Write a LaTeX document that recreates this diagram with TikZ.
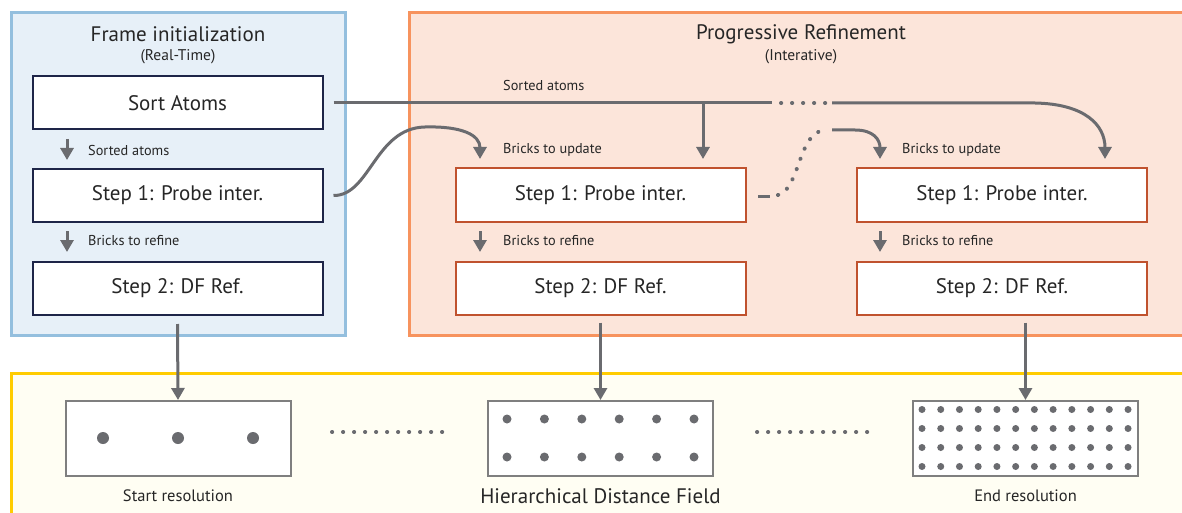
\documentclass[tikz,border=0pt]{standalone}
\usepackage{fontspec}
\setmainfont{PT Sans}
\usetikzlibrary{arrows.meta}
\definecolor{conn}{HTML}{6A6B6F}
\definecolor{navy}{HTML}{1E2548}
\definecolor{rust}{HTML}{C0522E}
\definecolor{bluefill}{HTML}{E7F0F8}
\definecolor{blueline}{HTML}{94BFDE}
\definecolor{orfill}{HTML}{FCE5DA}
\definecolor{orline}{HTML}{F7935E}
\definecolor{yefill}{HTML}{FFFEF3}
\definecolor{yeline}{HTML}{FFCC00}
\definecolor{resline}{HTML}{7F7F7F}
\definecolor{txt}{HTML}{262626}
\tikzset{
  x=1pt, y=-1pt,
  stepbox/.style={draw=#1, line width=2pt, fill=white, minimum width=290pt, minimum height=53pt, inner sep=0pt, text=txt, font=\fontsize{21}{24}\selectfont},
  resbox/.style={draw=resline, line width=2pt, fill=white, minimum width=225pt, minimum height=75pt, inner sep=0pt},
  conn/.style={draw=conn, line width=3pt},
  arr/.style={conn, -{Triangle[length=12pt,width=13pt]}},
  dotline/.style={draw=conn, line width=4pt, line cap=round, dash pattern=on 0.2pt off 10.8pt},
  lbl/.style={anchor=west, inner sep=0pt, text=txt, font=\fontsize{14.3}{16}\selectfont},
  ttl/.style={inner sep=0pt, text=txt, font=\fontsize{21}{24}\selectfont},
  subttl/.style={inner sep=0pt, text=txt, font=\fontsize{15.5}{18}\selectfont},
  reslbl/.style={inner sep=0pt, text=txt, font=\fontsize{16.5}{19}\selectfont},
  dot/.style={fill=conn, circle, inner sep=0pt, minimum size=#1}
}
\begin{document}
\begin{tikzpicture}
\useasboundingbox (0,0) rectangle (1182,513);
\clip (0,0) rectangle (1182,513);
% panels
\draw[fill=bluefill, draw=blueline, line width=3pt] (11.5,12.5) rectangle (345,335);
\draw[fill=orfill, draw=orline, line width=3pt] (409.5,12.5) rectangle (1200,335);
\draw[fill=yefill, draw=yeline, line width=3pt] (11.5,373.5) rectangle (1200,540);
% titles
\node[ttl] (t1) at (178,34) {Frame initialization};
\node[subttl] (t1s) at (178,57) {(Real-Time)};
\node[ttl] (t2) at (801,34) {Progressive Refinement};
\node[subttl] (t2s) at (801,57) {(Interative)};
% left column
\node[stepbox=navy] (sort) at (177.5,103) {Sort Atoms};
\node[stepbox=navy] (p1) at (177.5,195.5) {Step 1: Probe inter.};
\node[stepbox=navy] (r1) at (177.5,288.5) {Step 2: DF Ref.};
% middle column
\node[stepbox=rust] (p2) at (600.5,195) {Step 1: Probe inter.};
\node[stepbox=rust] (r2) at (600.5,288) {Step 2: DF Ref.};
% right column
\node[stepbox=rust] (p3) at (1002,195) {Step 1: Probe inter.};
\node[stepbox=rust] (r3) at (1002,288) {Step 2: DF Ref.};
% small arrows and labels
\coordinate (a1s) at (67,139); \coordinate (a1e) at (67,160);
\coordinate (a2s) at (67,231); \coordinate (a2e) at (67,252);
\draw[arr] (a1s) -- (a1e);
\draw[arr] (a2s) -- (a2e);
\node[lbl] (l1) at (88,150) {Sorted atoms};
\node[lbl] (l2) at (88,241) {Bricks to refine};
\coordinate (m2s) at (480,231); \coordinate (m2e) at (480,252);
\draw[arr] (m2s) -- (m2e);
\node[lbl] (l3) at (503,150) {Bricks to update};
\node[lbl] (l4) at (503,241) {Bricks to refine};
\coordinate (n2s) at (880,231); \coordinate (n2e) at (880,252);
\draw[arr] (n2s) -- (n2e);
\node[lbl] (l5) at (902,150) {Bricks to update};
\node[lbl] (l6) at (902,241) {Bricks to refine};
\node[lbl] (l7) at (503,85) {Sorted atoms};
% top sorted-atoms line
\coordinate (sa1) at (772,103);
\coordinate (sa2) at (832,103);
\coordinate (br) at (703,103);
\coordinate (brt) at (703,159);
\coordinate (rt) at (1105,159);
\draw[conn] ([xshift=10pt]sort.east) -- (sa1);
\draw[dotline] (781,103) -- (826,103);
\draw[arr] (sa2) -- (1035,103) .. controls (1085,104) and (1105,125) .. (rt);
\draw[arr] (br) -- (brt);
% curve from left probe to middle
\coordinate (mt) at (480,159);
\draw[arr] ([xshift=10pt]p1.east) .. controls (370,196) and (375,128) .. (425,127) .. controls (462,126) and (480,135) .. (mt);
% dashed connector from middle probe to right
\coordinate (d1) at (758,196);
\coordinate (d2) at (770,196);
\coordinate (d3) at (832,130);
\coordinate (nt) at (880,159);
\draw[conn] (d1) -- (d2);
\draw[dotline] (778,195) .. controls (800,190) and (798,130) .. (826,130);
\draw[arr] (d3) -- (855,130) .. controls (874,130) and (880,140) .. (nt);
% result boxes
\node[resbox] (s0) at (178,438.5) {};
\node[resbox] (h0) at (600.5,438.5) {};
\node[resbox] (e0) at (1025.5,438.5) {};
\node[reslbl] (sl) at (178,496) {Start resolution};
\node[inner sep=0pt, text=txt, font=\fontsize{21}{24}\selectfont] (hl) at (600.5,496) {Hierarchical Distance Field};
\node[reslbl] (el) at (1025.5,496) {End resolution};
% dots
\foreach \x in {103,178,253} \node[dot=12pt] at (\x,438) {};
\foreach \x in {507,544.4,581.8,619.2,656.6,694} \foreach \y in {419,457} \node[dot=9pt] at (\x,\y) {};
\foreach \i in {0,...,11} \foreach \y in {409.5,428.5,447.5,466.5} \node[dot=7pt] at (922+18.73*\i,\y) {};
% dotted separators
\draw[dotline] (332,432) -- (447,432);
\draw[dotline] (757,432) -- (870,432);
% arrows down to results
\draw[arr] ([yshift=-8pt]r1.south) -- (s0.north);
\draw[arr] ([yshift=-7pt]r2.south) -- (h0.north);
\draw[arr] ([xshift=23.5pt,yshift=-7pt]r3.south) -- (e0.north);
\end{tikzpicture}
\end{document}
